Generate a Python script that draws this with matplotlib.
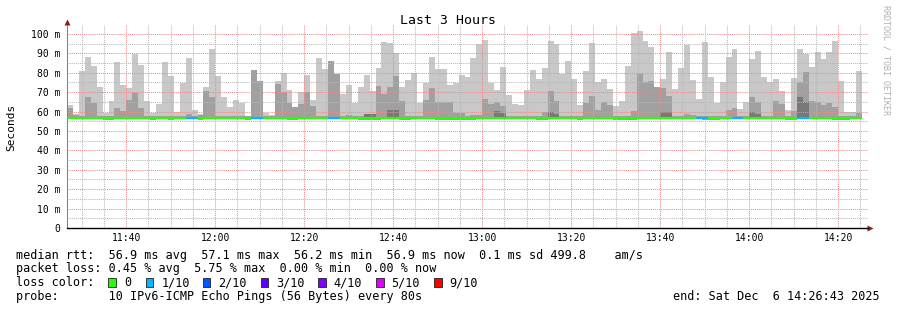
import numpy as np
import pandas as pd
import matplotlib
matplotlib.use("Agg")
import matplotlib.pyplot as plt
import matplotlib.dates as mdates
from matplotlib.patches import Rectangle

# --- data (ms), one value per 80 s step ---
end_time = pd.Timestamp("2025-12-06 14:26:43")
start_time = end_time - pd.Timedelta(hours=3)
step_s = 80

# top of the smoke (slowest ping)
rtt_max = [
    63.2, 58.8, 80.9, 88.1, 83.5, 72.7, 59.3, 65.5, 85.6, 73.7,
    72.2, 89.7, 84.0, 65.5, 59.5, 63.9, 85.6, 78.4, 59.8, 74.7,
    87.6, 60.8, 58.8, 72.7, 92.3, 78.4, 67.5, 62.4, 66.0, 64.4,
    57.8, 81.4, 75.8, 59.5, 58.0, 75.9, 79.9, 71.1, 62.4, 70.0,
    78.9, 66.0, 87.6, 82.0, 86.1, 79.4, 69.1, 73.7, 64.4, 72.7,
    78.9, 70.6, 82.5, 95.9, 95.4, 90.2, 72.7, 76.3, 79.9, 64.4,
    74.7, 88.1, 82.0, 82.0, 73.7, 74.7, 78.9, 77.8, 87.6, 94.8,
    96.9, 74.7, 71.1, 83.0, 68.6, 63.9, 63.4, 71.1, 81.4, 76.8,
    82.5, 96.4, 94.8, 79.4, 86.1, 76.8, 63.4, 80.9, 95.4, 75.2,
    76.8, 71.6, 62.9, 65.5, 83.5, 100.5, 101.5, 96.4, 93.3, 72.7,
    76.8, 90.7, 71.6, 82.5, 94.3, 76.3, 66.5, 95.9, 77.8, 64.4,
    75.2, 88.1, 92.3, 61.4, 65.1, 87.1, 91.2, 77.8, 75.2, 76.8,
    70.6, 60.8, 77.3, 92.3, 89.7, 83.0, 90.7, 87.1, 90.7, 96.4,
    75.8, 59.8, 59.8, 80.9,
]

# top of the inner (second) smoke band
rtt_inner = [
    61.9, 58.1, 57.5, 67.5, 64.4, 57.5, 57.5, 57.5, 61.9, 60.3,
    66.0, 69.8, 61.9, 57.5, 57.5, 57.5, 57.5, 57.5, 57.5, 57.9,
    58.6, 57.5, 58.0, 70.6, 67.5, 57.5, 57.5, 57.5, 57.5, 57.5,
    57.5, 81.4, 75.8, 57.5, 57.5, 74.2, 69.9, 64.6, 62.4, 63.9,
    70.0, 62.9, 57.5, 57.5, 86.1, 79.4, 57.5, 58.0, 57.5, 57.5,
    58.6, 58.6, 73.2, 69.1, 72.7, 78.4, 65.5, 57.5, 57.5, 57.5,
    66.0, 72.2, 65.1, 65.1, 65.1, 59.2, 59.2, 57.5, 58.3, 58.3,
    66.5, 63.9, 65.1, 62.9, 57.5, 57.5, 57.5, 57.5, 57.5, 57.5,
    59.8, 70.6, 65.5, 57.5, 57.5, 57.5, 57.5, 64.4, 68.0, 60.8,
    65.1, 63.4, 57.5, 57.5, 57.8, 60.3, 79.4, 75.2, 75.8, 72.7,
    72.2, 68.0, 57.5, 57.5, 58.6, 58.3, 57.5, 57.8, 57.5, 57.5,
    57.5, 60.8, 61.9, 57.5, 57.5, 67.5, 65.1, 57.5, 57.5, 65.5,
    63.9, 57.5, 60.3, 75.2, 80.4, 65.5, 65.1, 63.4, 64.4, 62.4,
    57.5, 57.5, 57.5, 59.2,
]

# steps where the darkest (core) band shows, and its top
core_steps = [50, 51, 54, 55, 72, 73, 81, 82, 100, 101, 115, 116, 123, 124]
core_top = [58.6, 58.6, 60.8, 60.8, 60.3, 59.5, 59.8, 58.6, 59.8, 59.8, 59.8, 58.6, 67.5, 65.1]

# steps where the fastest ping dips below the median line
low_min_steps = [6, 7, 14, 17, 22, 30, 37, 38, 49, 50, 51, 52, 56, 57, 62, 63, 64,
                 65, 66, 67, 68, 79, 80, 86, 92, 93, 94, 95, 107, 108, 109, 121,
                 122, 129, 130, 131]

# median rtt; a few steps sit a little lower
median_dip_steps = [6, 7, 22, 50, 51, 52, 56, 86, 108, 109, 130]
median_base = 56.9
median_dip = 56.5

# steps that lost 1 of 10 pings
loss_1_steps = [20, 21, 31, 32, 44, 45, 106, 107, 112, 113, 123, 124]

loss_labels = ["0", "1/10", "2/10", "3/10", "4/10", "5/10", "9/10"]
loss_colors = ["#26ff00", "#00b8ff", "#0059ff", "#5e00ff", "#7e00ff", "#dd00ff", "#ff0000"]

legend_rtt = "median rtt:  56.9 ms avg  57.1 ms max  56.2 ms min  56.9 ms now  0.1 ms sd 499.8    am/s"
legend_loss = "packet loss: 0.45 % avg  5.75 % max  0.00 % min  0.00 % now"
legend_probe = "probe:       10 IPv6-ICMP Echo Pings (56 Bytes) every 80s"
end_label = "end: Sat Dec  6 14:26:43 2025"

# --- build arrays ---
n = len(rtt_max)
hi = np.array(rtt_max)
inner = np.array(rtt_inner)
core = np.full(n, 56.4)
core[core_steps] = core_top
lo = np.full(n, 56.3)
lo[low_min_steps] = 55.6
med = np.full(n, median_base)
med[median_dip_steps] = median_dip
loss = np.zeros(n, dtype=int)
loss[loss_1_steps] = 1

edges = start_time + pd.to_timedelta(np.arange(n + 1) * step_s, unit="s")
xe = mdates.date2num(edges.to_pydatetime())

W, H = 897, 310
fig = plt.figure(figsize=(W / 100, H / 100), dpi=100)
fig.patch.set_facecolor("white")
ax = fig.add_axes([67 / W, (H - 228) / H, (868 - 67) / W, (228 - 25) / H])

mono = "DejaVu Sans Mono"


def band(bottom, top, color):
    ax.fill_between(xe, np.append(bottom, bottom[-1]), np.append(top, top[-1]),
                    step="post", color=color, lw=0, zorder=1)


band(lo, hi, "#c8c8c8")
band(lo, inner, "#a0a0a0")
band(np.full(n, 56.4), core, "#787878")

ax.hlines(med, xe[:-1], xe[1:], colors=[loss_colors[l] for l in loss],
          lw=1.6, zorder=3)

ax.set_xlim(mdates.date2num(start_time.to_pydatetime()), mdates.date2num(end_time.to_pydatetime()))
ax.set_ylim(0, 104.6)

ax.xaxis.set_major_locator(mdates.MinuteLocator(byminute=[0, 20, 40]))
ax.xaxis.set_minor_locator(mdates.MinuteLocator(byminute=range(0, 60, 5)))
ax.xaxis.set_major_formatter(mdates.DateFormatter("%H:%M"))
ax.set_yticks(range(0, 101, 10))
ax.set_yticklabels(["0"] + [f"{v} m" for v in range(10, 101, 10)])
ax.set_yticks(range(5, 101, 10), minor=True)

ax.set_axisbelow(False)
ax.grid(which="major", color="#ec8c8c", linestyle=(0, (1, 1)), lw=0.75, zorder=2)
ax.grid(which="minor", color="#b8b8b8", linestyle=(0, (1, 1)), lw=0.75, zorder=2)

ax.tick_params(which="both", length=0)
ax.tick_params(axis="y", pad=5)
ax.tick_params(axis="x", pad=3.5)
for lab in ax.get_xticklabels() + ax.get_yticklabels():
    lab.set_fontfamily(mono)
    lab.set_fontsize(7)

for side in ["top", "right"]:
    ax.spines[side].set_visible(False)
ax.spines["left"].set_color("#808080")
ax.spines["left"].set_linewidth(0.75)
ax.spines["bottom"].set_color("black")
ax.spines["bottom"].set_linewidth(1.0)

ax.plot(0, 1.015, marker="^", transform=ax.transAxes, clip_on=False,
        color="#8b1c1c", ms=4.5, mec="none")
ax.plot(1.003, 0, marker=">", transform=ax.transAxes, clip_on=False,
        color="#8b1c1c", ms=4.5, mec="none")

fig.text(448 / W, 1 - 20 / H, "Last 3 Hours", family=mono, fontsize=9.5,
         ha="center", va="center")
fig.text(11 / W, 1 - 127 / H, "Seconds", family=mono, fontsize=8,
         rotation=90, ha="center", va="center")
fig.text(886 / W, 1 - 5 / H, "RRDTOOL / TOBI OETIKER", family=mono, fontsize=6,
         color="#b0b0b0", rotation=270, ha="center", va="top")

fs = 8.5
fig.text(16 / W, 1 - 255 / H, legend_rtt, family=mono, fontsize=fs, va="center")
fig.text(16 / W, 1 - 268.5 / H, legend_loss, family=mono, fontsize=fs, va="center")
fig.text(16 / W, 1 - 282.5 / H, "loss color:", family=mono, fontsize=fs, va="center")
fig.text(16 / W, 1 - 296.5 / H, legend_probe, family=mono, fontsize=fs, va="center")
fig.text(880 / W, 1 - 296.5 / H, end_label, family=mono, fontsize=fs,
         ha="right", va="center")

box_x = [108.3, 145.7, 202.7, 260.7, 318.3, 376.0, 434.0]
for bx, lab, col in zip(box_x, loss_labels, loss_colors):
    fig.add_artist(Rectangle((bx / W, 1 - 286.7 / H), 7.5 / W, 8.3 / H,
                             transform=fig.transFigure, facecolor=col,
                             edgecolor="#202020", lw=0.6))
    fig.text((bx + 15.5) / W, 1 - 282.5 / H, lab, family=mono, fontsize=fs, va="center")

fig.savefig("out.png", dpi=100, facecolor="white")
